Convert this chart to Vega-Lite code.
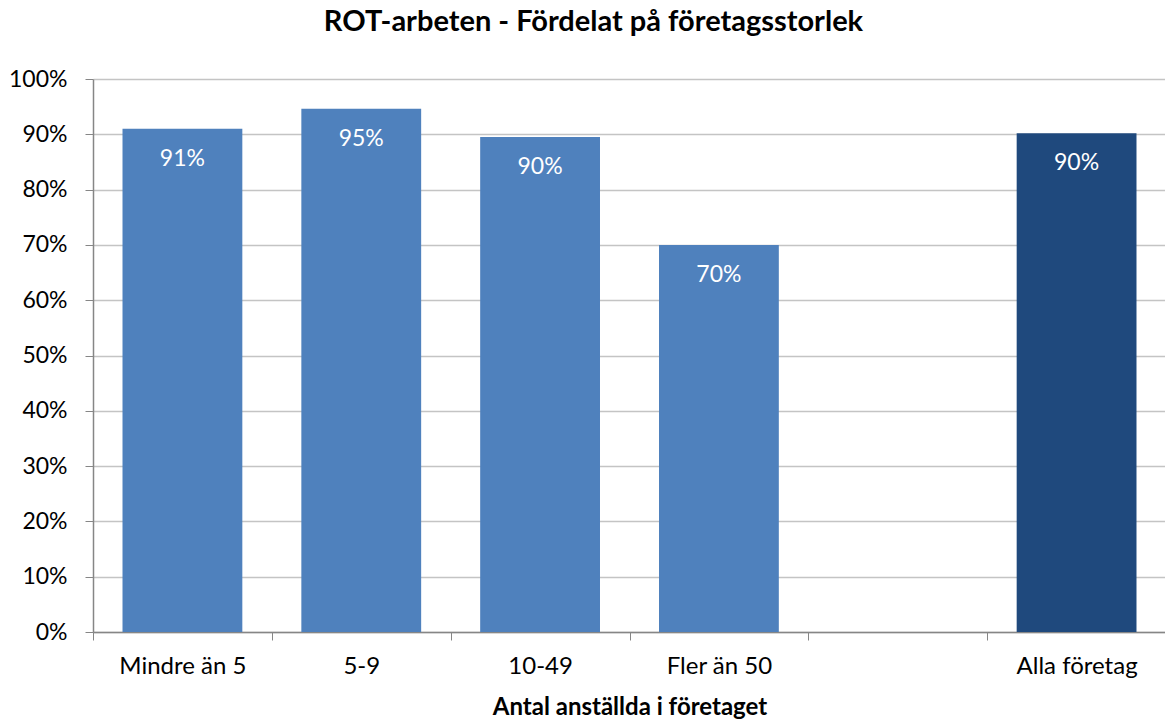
{
  "$schema": "https://vega.github.io/schema/vega-lite/v6.json",
  "width": 1073,
  "height": 553,
  "autosize": "none",
  "padding": {"left": 93, "top": 79, "right": 0, "bottom": 88},
  "background": "white",
  "config": {"view": {"stroke": null}, "font": "Lato"},
  "title": {
    "text": "ROT-arbeten - Fördelat på företagsstorlek",
    "font": "Lato", "fontSize": 29, "fontWeight": "bold", "color": "black",
    "anchor": "middle", "frame": "group", "dx": -36, "offset": 8, "baseline": "alphabetic"
  },
  "data": {
    "values": [
      {"kategori": "Mindre än 5", "andel": 0.91, "typ": "storlek"},
      {"kategori": "5-9", "andel": 0.946, "typ": "storlek"},
      {"kategori": "10-49", "andel": 0.895, "typ": "storlek"},
      {"kategori": "Fler än 50", "andel": 0.70, "typ": "storlek"},
      {"kategori": "Alla företag", "andel": 0.902, "typ": "alla"}
    ]
  },
  "encoding": {
    "x": {
      "field": "kategori", "type": "nominal",
      "scale": {"domain": ["Mindre än 5", "5-9", "10-49", "Fler än 50", " ", "Alla företag"], "paddingInner": 0, "paddingOuter": 0},
      "axis": {
        "title": "Antal anställda i företaget", "titleFont": "Lato", "titleFontSize": 24, "titleFontWeight": "bold", "titleColor": "black", "titlePadding": 17,
        "labelFont": "Lato", "labelFontSize": 24, "labelColor": "black", "labelAngle": 0, "labelPadding": 14,
        "tickBand": "extent", "tickSize": 8, "tickColor": "#868686", "domainColor": "#868686", "domainWidth": 1.5, "grid": false
      }
    },
    "y": {
      "field": "andel", "type": "quantitative",
      "scale": {"domain": [0, 1], "nice": false},
      "axis": {
        "title": null, "format": ".0%", "values": [0,0.1,0.2,0.3,0.4,0.5,0.6,0.7,0.8,0.9,1],
        "labelFont": "Lato", "labelFontSize": 23, "labelColor": "black", "labelPadding": 18,
        "tickSize": 8, "tickColor": "#868686", "domainColor": "#868686", "domainWidth": 1.5,
        "grid": true, "gridColor": "#C4C4C4", "gridWidth": 1.5
      }
    }
  },
  "layer": [
    {
      "mark": {"type": "bar", "width": {"band": 0.67}},
      "encoding": {
        "color": {"field": "typ", "type": "nominal", "scale": {"domain": ["storlek", "alla"], "range": ["#4F81BD", "#1F497D"]}, "legend": null}
      }
    },
    {
      "mark": {"type": "text", "color": "white", "font": "Lato", "fontSize": 23, "baseline": "middle", "dy": 30},
      "encoding": {"text": {"field": "andel", "type": "quantitative", "format": ".0%"}}
    }
  ]
}
